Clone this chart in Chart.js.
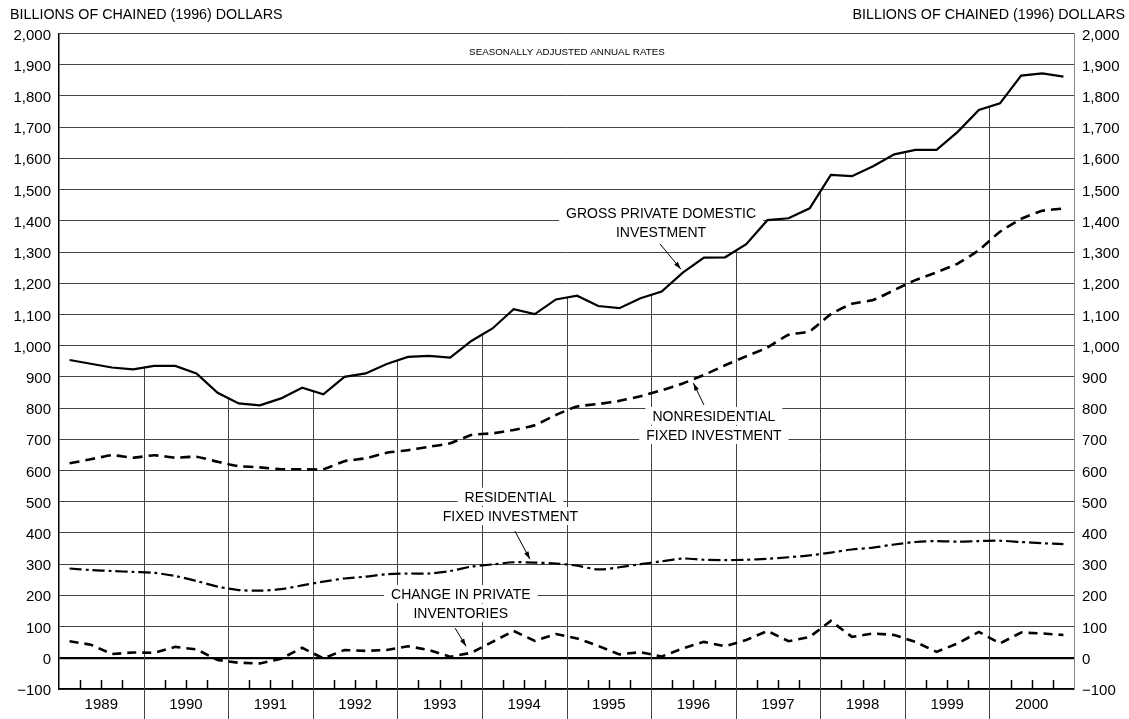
<!DOCTYPE html>
<html>
<head>
<meta charset="utf-8">
<script src="https://cdn.jsdelivr.net/npm/chart.js@4/dist/chart.umd.min.js"></script>
<style>
	body { margin: 0; background: #fff; }
	#wrap { width: 1129px; height: 719px; }
</style>
</head>
<body>
<div id="wrap"><canvas id="chart" width="1129" height="719"></canvas></div>
<script>
const years = ["1989", "1990", "1991", "1992", "1993", "1994", "1995", "1996", "1997", "1998", "1999", "2000"];

// quarterly values, billions of chained (1996) dollars
const grossInvestment = [
	954, 942, 930, 924, 935, 935, 911, 849, 815, 809, 831, 865,
	844, 900, 911, 941, 964, 967, 962, 1015, 1055, 1117, 1101, 1148,
	1160, 1127, 1120, 1152, 1173, 1234, 1282, 1283, 1325, 1402, 1408, 1440,
	1547, 1543, 1575, 1613, 1627, 1627, 1685, 1755, 1776, 1865, 1872, 1862,
];
const nonresidential = [
	623, 636, 649, 641, 649, 641, 644, 628, 614, 610, 604, 604,
	604, 630, 639, 657, 665, 676, 687, 714, 719, 730, 745, 778,
	805, 813, 823, 838, 857, 879, 906, 937, 966, 994, 1035, 1046,
	1101, 1134, 1146, 1178, 1210, 1235, 1263, 1306, 1365, 1406, 1432, 1439,
];
const residential = [
	286, 281, 278, 275, 272, 262, 246, 228, 217, 215, 220, 232,
	244, 254, 260, 268, 270, 270, 278, 292, 299, 306, 305, 302,
	295, 283, 290, 300, 309, 318, 314, 313, 314, 317, 322, 328,
	337, 347, 353, 363, 371, 374, 372, 374, 375, 371, 367, 364,
];
const inventories = [
	53, 42, 12, 17, 16, 35, 27, -7, -16, -18, -3, 32,
	-2, 25, 22, 25, 37, 25, 3, 16, 51, 86, 54, 76,
	62, 38, 11, 18, 4, 30, 51, 37, 57, 86, 53, 67,
	118, 67, 78, 73, 51, 19, 46, 83, 46, 81, 78, 73,
];

const FONT = '"Liberation Sans", Arial, sans-serif';
const unitsLabel = "BILLIONS OF CHAINED (1996) DOLLARS";

// labels placed in data units (x in quarters from start of 1989, y in billions)
const notes = [
	{ lines: ["GROSS PRIVATE DOMESTIC", "INVESTMENT"], x: 28.47, y: [1426, 1365], arrow: [28.42, 1326, 29.41, 1245] },
	{ lines: ["NONRESIDENTIAL", "FIXED INVESTMENT"], x: 30.97, y: [775, 714], arrow: [30.5, 810, 30.0, 880] },
	{ lines: ["RESIDENTIAL", "FIXED INVESTMENT"], x: 21.35, y: [516, 454], arrow: [21.56, 406, 22.27, 316] },
	{ lines: ["CHANGE IN PRIVATE", "INVENTORIES"], x: 19.0, y: [204, 144], arrow: [18.73, 95, 19.25, 37] },
];

const toPoints = arr => arr.map((v, i) => ({ x: i + 0.5, y: v }));

const fmt = v => (v < 0 ? "\u2212" : "") + Math.abs(v).toLocaleString("en-US");

function drawArrow(ctx, x1, y1, x2, y2) {
	const ang = Math.atan2(y2 - y1, x2 - x1);
	ctx.beginPath();
	ctx.moveTo(x1, y1);
	ctx.lineTo(x2, y2);
	ctx.stroke();
	ctx.beginPath();
	ctx.moveTo(x2, y2);
	ctx.lineTo(x2 - 8 * Math.cos(ang - 0.3), y2 - 8 * Math.sin(ang - 0.3));
	ctx.lineTo(x2 - 8 * Math.cos(ang + 0.3), y2 - 8 * Math.sin(ang + 0.3));
	ctx.closePath();
	ctx.fill();
}

const decorations = {
	id: "decorations",
	beforeDatasetsDraw(chart) {
		const { ctx, chartArea, scales } = chart;
		const xs = scales.x;
		const ys = scales.y;
		const meta = chart.getDatasetMeta(0);
		ctx.save();

		// year dividers drop from the gross investment line
		ctx.strokeStyle = "#444";
		ctx.lineWidth = 1;
		for (let k = 1; k < years.length; k++) {
			const x = Math.round(xs.getPixelForValue(4 * k)) + 0.5;
			const top = (meta.data[4 * k - 1].y + meta.data[4 * k].y) / 2;
			ctx.beginPath();
			ctx.moveTo(x, top);
			ctx.lineTo(x, chart.height);
			ctx.stroke();
		}

		// quarter ticks inside the bottom of the plot
		ctx.strokeStyle = "#000";
		ctx.lineWidth = 1.5;
		for (let k = 1; k < 48; k++) {
			if (k % 4 === 0) continue;
			const x = Math.round(xs.getPixelForValue(k)) + 0.5;
			ctx.beginPath();
			ctx.moveTo(x, chartArea.bottom);
			ctx.lineTo(x, chartArea.bottom - 9);
			ctx.stroke();
		}

		ctx.font = "9.8px " + FONT;
		ctx.fillStyle = "#000";
		ctx.textAlign = "center";
		ctx.textBaseline = "middle";
		ctx.fillText("SEASONALLY ADJUSTED ANNUAL RATES", xs.getPixelForValue(24.02), ys.getPixelForValue(1939));

		// series labels on white boxes
		ctx.font = "14px " + FONT;
		notes.forEach(n => {
			const cx = xs.getPixelForValue(n.x);
			n.lines.forEach((t, i) => {
				const cy = ys.getPixelForValue(n.y[i]);
				const w = ctx.measureText(t).width;
				ctx.fillStyle = "#fff";
				ctx.fillRect(cx - w / 2 - 7, cy - 9, w + 14, 18);
			});
			n.lines.forEach((t, i) => {
				ctx.fillStyle = "#000";
				ctx.fillText(t, cx, ys.getPixelForValue(n.y[i]) + 1);
			});
			const a = n.arrow;
			ctx.strokeStyle = "#000";
			ctx.fillStyle = "#000";
			ctx.lineWidth = 1;
			drawArrow(ctx, xs.getPixelForValue(a[0]), ys.getPixelForValue(a[1]), xs.getPixelForValue(a[2]), ys.getPixelForValue(a[3]));
		});
		ctx.restore();
	},
	afterDraw(chart) {
		const { ctx } = chart;
		ctx.save();
		ctx.font = "14.3px " + FONT;
		ctx.fillStyle = "#000";
		ctx.textBaseline = "middle";
		ctx.textAlign = "left";
		ctx.fillText(unitsLabel, 10, 15);
		ctx.textAlign = "right";
		ctx.fillText(unitsLabel, 1125, 15);
		ctx.restore();
	},
};

const ctx = document.getElementById("chart").getContext("2d");
new Chart(ctx, {
	type: "line",
	data: {
		datasets: [
			{
				label: "Gross private domestic investment",
				data: toPoints(grossInvestment),
				borderColor: "#000",
				borderWidth: 2.2,
				tension: 0,
			},
			{
				label: "Nonresidential fixed investment",
				data: toPoints(nonresidential),
				borderColor: "#000",
				borderWidth: 2.6,
				borderDash: [10, 6],
				tension: 0.15,
			},
			{
				label: "Residential fixed investment",
				data: toPoints(residential),
				borderColor: "#000",
				borderWidth: 2.2,
				borderDash: [12, 4, 3, 4],
				tension: 0.3,
			},
			{
				label: "Change in private inventories",
				data: toPoints(inventories),
				borderColor: "#000",
				borderWidth: 2.6,
				borderDash: [9, 6],
				tension: 0,
			},
		],
	},
	options: {
		responsive: false,
		animation: false,
		layout: { padding: { top: 33.5, left: 0, right: 0, bottom: 0 } },
		elements: { point: { radius: 0 } },
		plugins: {
			legend: { display: false },
			tooltip: { enabled: false },
		},
		scales: {
			x: {
				type: "linear",
				min: 0,
				max: 48,
				afterBuildTicks: scale => {
					scale.ticks = years.map((y, k) => ({ value: 4 * k + 2 }));
				},
				afterFit: scale => { scale.height = 30; },
				ticks: {
					autoSkip: false,
					maxRotation: 0,
					padding: 7,
					color: "#000",
					font: { family: FONT, size: 15 },
					callback: value => years[(value - 2) / 4],
				},
				grid: { display: false, drawTicks: false },
				border: { color: "#000", width: 1.5 },
			},
			y: {
				position: "left",
				min: -100,
				max: 2000,
				afterFit: scale => { scale.width = 59; },
				ticks: {
					stepSize: 100,
					padding: 8,
					labelOffset: 2,
					color: "#000",
					font: { family: FONT, size: 15 },
					callback: fmt,
				},
				grid: {
					drawTicks: false,
					color: c => (c.tick && c.tick.value === 0 ? "#000" : "#444"),
					lineWidth: c => (c.tick && c.tick.value === 0 ? 2.2 : 1),
				},
				border: { color: "#000", width: 1.5 },
			},
			y2: {
				position: "right",
				min: -100,
				max: 2000,
				afterFit: scale => { scale.width = 55; },
				ticks: {
					stepSize: 100,
					padding: 8,
					labelOffset: 2,
					color: "#000",
					font: { family: FONT, size: 15 },
					callback: fmt,
				},
				grid: { display: false, drawTicks: false },
				border: { color: "#888", width: 1 },
			},
		},
	},
	plugins: [decorations],
});
</script>
</body>
</html>
